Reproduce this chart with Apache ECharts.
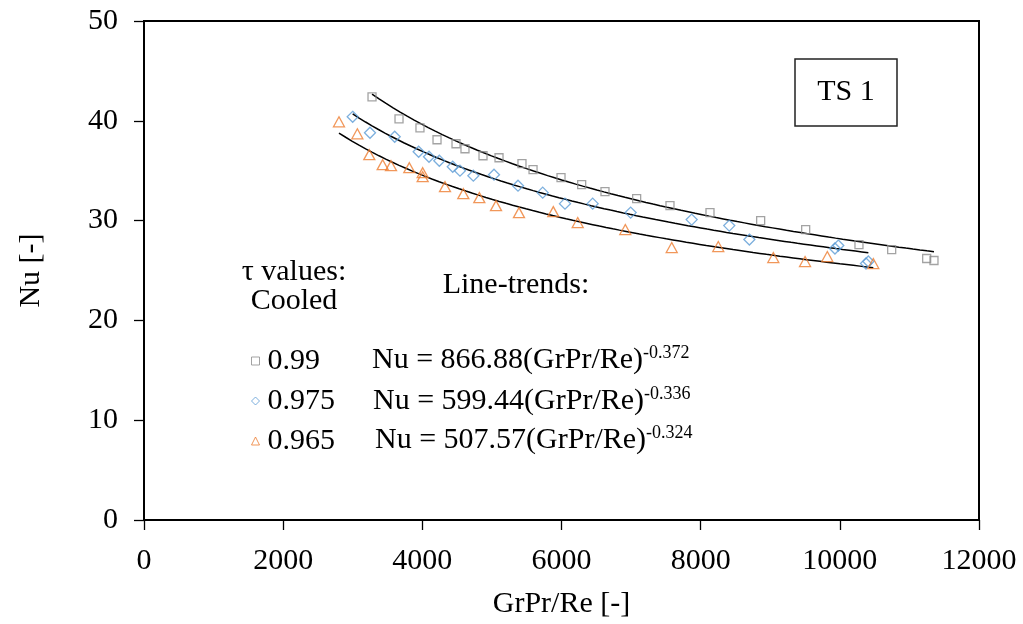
<!DOCTYPE html>
<html>
<head>
<meta charset="utf-8">
<script src="https://cdn.jsdelivr.net/npm/echarts@6/dist/echarts.min.js"></script>
<style>
  html, body { margin: 0; padding: 0; background: #fff; }
  #chart { width: 1023px; height: 624px; }
</style>
</head>
<body>
<div id="chart"></div>
<script>
// Measured Nusselt numbers against GrPr/Re, cooled case, three tau values
const tauLabels = ['0.99', '0.975', '0.965'];

const grprre_099 = [3277, 3665, 3966, 4211, 4484, 4613, 4872, 5102, 5432, 5591, 5993, 6290, 6625, 7080, 7559, 8134, 8862, 9509, 10275, 10745, 11248, 11353];
const nu_099     = [42.4, 40.2, 39.3, 38.1, 37.7, 37.2, 36.5, 36.3, 35.7, 35.1, 34.3, 33.6, 32.9, 32.2, 31.5, 30.8, 30.0, 29.1, 27.6, 27.1, 26.2, 26.0];

const grprre_0975 = [2999, 3248, 3603, 3947, 4096, 4244, 4437, 4541, 4733, 5030, 5375, 5730, 6050, 6448, 6994, 7871, 8411, 8700, 9930, 9978, 10376, 10410];
const nu_0975     = [40.4, 38.8, 38.4, 36.9, 36.4, 36.0, 35.4, 35.0, 34.5, 34.6, 33.5, 32.8, 31.7, 31.7, 30.8, 30.1, 29.5, 28.1, 27.2, 27.5, 25.7, 25.9];

const grprre_0965 = [2802, 3066, 3238, 3430, 3550, 3813, 4005, 4005, 4326, 4589, 4819, 5059, 5389, 5882, 6233, 6917, 7584, 8253, 9044, 9500, 9820, 10481];
const nu_0965     = [39.9, 38.7, 36.6, 35.6, 35.5, 35.3, 34.8, 34.4, 33.4, 32.7, 32.3, 31.5, 30.8, 30.9, 29.8, 29.1, 27.3, 27.4, 26.3, 25.9, 26.4, 25.7];

// Power-law trend coefficients: Nu = a * (GrPr/Re)^b
const trendA = [866.88, 599.44, 507.57];
const trendB = [-0.372, -0.336, -0.324];

const xTicks = [0, 2000, 4000, 6000, 8000, 10000, 12000];
const yTicks = [0, 10, 20, 30, 40, 50];

const FONT = '"Liberation Serif", "Times New Roman", serif';
const colors = ['#8c8c8c', '#5b9bd5', '#ed7d31'];
const symbols = ['rect', 'diamond', 'triangle'];
const symbolSizes = [8, 11, [11, 10]];
const xs = [grprre_099, grprre_0975, grprre_0965];
const ys = [nu_099, nu_0975, nu_0965];

function pairs(x, y) { return x.map((v, i) => [v, y[i]]); }

// Trend curve sampled over the range of each data set
function trendCurve(k) {
  const lo = Math.min.apply(null, xs[k]);
  const hi = Math.max.apply(null, xs[k]);
  const pts = [];
  const n = 80;
  for (let i = 0; i <= n; i++) {
    const x = lo + (hi - lo) * i / n;
    pts.push([x, trendA[k] * Math.pow(x, trendB[k])]);
  }
  return pts;
}

const series = [];
for (let k = 0; k < 3; k++) {
  series.push({
    type: 'line',
    data: trendCurve(k),
    showSymbol: false,
    symbol: 'none',
    silent: true,
    lineStyle: { color: '#000', width: 1.5 },
    z: 2
  });
}
for (let k = 0; k < 3; k++) {
  series.push({
    name: tauLabels[k],
    type: 'scatter',
    data: pairs(xs[k], ys[k]),
    symbol: symbols[k],
    symbolSize: symbolSizes[k],
    itemStyle: { color: 'rgba(255,255,255,0)', borderColor: colors[k], borderWidth: 1.3 },
    z: 3
  });
}

function eqText(k) {
  return '{b|Nu = ' + trendA[k].toFixed(2) + '(GrPr/Re)}{s|' + trendB[k].toFixed(3) + '}';
}
const eqRich = {
  b: { fontFamily: FONT, fontSize: 30, color: '#000', lineHeight: 32 },
  s: { fontFamily: FONT, fontSize: 18, color: '#000', verticalAlign: 'top', lineHeight: 32, padding: [0, 0, 14, 0] }
};

const chart = echarts.init(document.getElementById('chart'));
chart.setOption({
  animation: false,
  backgroundColor: '#fff',
  grid: {
    left: 144, right: 44, top: 21, bottom: 102,
    show: true, borderColor: '#000', borderWidth: 2, backgroundColor: 'transparent'
  },
  xAxis: {
    type: 'value',
    min: xTicks[0], max: xTicks[xTicks.length - 1], interval: 2000,
    name: 'GrPr/Re [-]',
    nameLocation: 'middle',
    nameGap: 69,
    nameTextStyle: { fontFamily: FONT, fontSize: 30, color: '#000' },
    axisLine: { lineStyle: { color: '#000', width: 2 } },
    axisTick: { show: true, length: 10, inside: false, lineStyle: { color: '#000', width: 1.3 } },
    axisLabel: { fontFamily: FONT, fontSize: 30, color: '#000', margin: 26, formatter: v => String(v) },
    splitLine: { show: false }
  },
  yAxis: {
    type: 'value',
    min: yTicks[0], max: yTicks[yTicks.length - 1], interval: 10,
    name: 'Nu [-]',
    nameLocation: 'middle',
    nameGap: 98,
    nameRotate: 90,
    nameTextStyle: { fontFamily: FONT, fontSize: 30, color: '#000' },
    axisLine: { show: true, lineStyle: { color: '#000', width: 2 } },
    axisTick: { show: true, length: 10, inside: false, lineStyle: { color: '#000', width: 1.3 } },
    axisLabel: { fontFamily: FONT, fontSize: 30, color: '#000', margin: 26, formatter: v => String(v) },
    splitLine: { show: false }
  },
  legend: {
    data: tauLabels.map((name, k) => ({ name: name, icon: symbols[k] })),
    orient: 'vertical',
    left: 246, top: 341,
    itemWidth: 8, itemHeight: 8,
    itemGap: 10,
    selectedMode: false,
    itemStyle: { borderWidth: 1 },
    textStyle: { fontFamily: FONT, fontSize: 30, color: '#000', padding: [0, 0, 0, 3] }
  },
  graphic: [
    { type: 'text', x: 294, y: 272, style: { text: 'τ values:', font: '30px ' + FONT, fill: '#000', textAlign: 'center', textVerticalAlign: 'middle' } },
    { type: 'text', x: 294, y: 301, style: { text: 'Cooled', font: '30px ' + FONT, fill: '#000', textAlign: 'center', textVerticalAlign: 'middle' } },
    { type: 'text', x: 516, y: 285, style: { text: 'Line-trends:', font: '30px ' + FONT, fill: '#000', textAlign: 'center', textVerticalAlign: 'middle' } },
    { type: 'text', x: 372, y: 360, style: { text: eqText(0), rich: eqRich, textVerticalAlign: 'middle' } },
    { type: 'text', x: 373, y: 401, style: { text: eqText(1), rich: eqRich, textVerticalAlign: 'middle' } },
    { type: 'text', x: 375, y: 440, style: { text: eqText(2), rich: eqRich, textVerticalAlign: 'middle' } },
    { type: 'rect', shape: { x: 795, y: 59, width: 102, height: 67 }, style: { fill: '#fff', stroke: '#222', lineWidth: 1.5 }, z: 10 },
    { type: 'text', x: 846, y: 92, z: 11, style: { text: 'TS 1', font: '30px ' + FONT, fill: '#000', textAlign: 'center', textVerticalAlign: 'middle' } }
  ],
  series: series
});
</script>
</body>
</html>
